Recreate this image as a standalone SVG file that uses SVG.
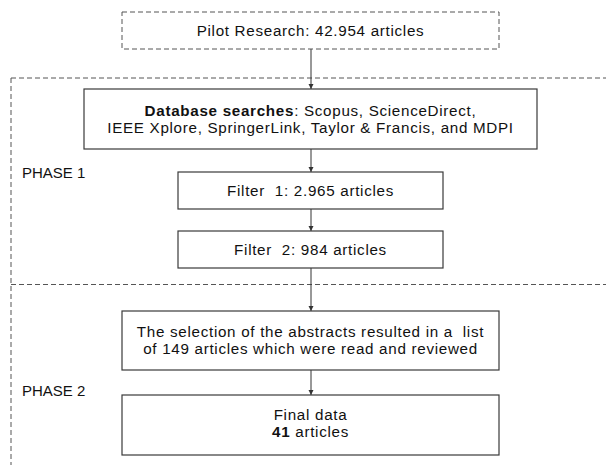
<svg xmlns="http://www.w3.org/2000/svg" width="606" height="465" viewBox="0 0 606 465">
  <style>
    text { font-family: "Liberation Sans", Arial, sans-serif; font-size: 15.2px; letter-spacing: 0.7px; fill: #111111; white-space: pre; }
    .lbl { font-size: 15px; letter-spacing: 0; }
    .c { text-anchor: middle; }
    .b { font-weight: bold; }
    .box { fill: #ffffff; stroke: #3a3a3a; stroke-width: 1.2; }
    .dbox { fill: #ffffff; stroke: #555555; stroke-width: 1; stroke-dasharray: 5 3; }
    .sep { fill: none; stroke: #555555; stroke-width: 1; stroke-dasharray: 5 3; }
    .edge { fill: none; stroke: #333333; stroke-width: 1; marker-end: url(#arrow); }
  </style>
  <defs>
    <marker id="arrow" viewBox="0 0 10 10" refX="10" refY="5" markerWidth="5" markerHeight="6" markerUnits="userSpaceOnUse" orient="auto">
      <path d="M0,0 L10,5 L0,10 z" fill="#333333"/>
    </marker>
  </defs>

  <rect width="606" height="465" fill="#ffffff"/>

  <!-- phase frames -->
  <g id="phases">
    <path class="sep" d="M11,78 H606"/>
    <path class="sep" d="M11,78 V465"/>
    <path class="sep" d="M11,284.5 H606"/>
    <text class="lbl" x="22" y="178">PHASE 1</text>
    <text class="lbl" x="22" y="396">PHASE 2</text>
  </g>

  <!-- connectors -->
  <g id="connectors">
    <path class="edge" d="M311,49 V89"/>
    <path class="edge" d="M311,149 V172"/>
    <path class="edge" d="M311,209 V231"/>
    <path class="edge" d="M311,268 V311"/>
    <path class="edge" d="M311,370 V395"/>
  </g>

  <g id="pilot">
    <rect class="dbox" x="122" y="12" width="377" height="37"/>
    <text class="c" x="310.5" y="36">Pilot Research: 42.954 articles</text>
  </g>

  <g id="database">
    <rect class="box" x="84" y="89" width="453" height="60"/>
    <text class="c" x="310.5" y="116"><tspan class="b">Database searches</tspan>: Scopus, ScienceDirect,</text>
    <text class="c" x="310.5" y="133">IEEE Xplore, SpringerLink, Taylor &amp; Francis, and MDPI</text>
  </g>

  <g id="filter1">
    <rect class="box" x="178" y="172" width="265" height="37"/>
    <text class="c" x="310.5" y="196">Filter  1: 2.965 articles</text>
  </g>

  <g id="filter2">
    <rect class="box" x="178" y="231" width="265" height="37"/>
    <text class="c" x="310.5" y="255">Filter  2: 984 articles</text>
  </g>

  <g id="selection">
    <rect class="box" x="122" y="311" width="377" height="59"/>
    <text class="c" x="310.5" y="337">The selection of the abstracts resulted in a  list</text>
    <text class="c" x="310.5" y="354">of 149 articles which were read and reviewed</text>
  </g>

  <g id="final">
    <rect class="box" x="122" y="395" width="377" height="60"/>
    <text class="c" x="310.5" y="420">Final data</text>
    <text class="c" x="310.5" y="437"><tspan class="b">41</tspan> articles</text>
  </g>
</svg>
